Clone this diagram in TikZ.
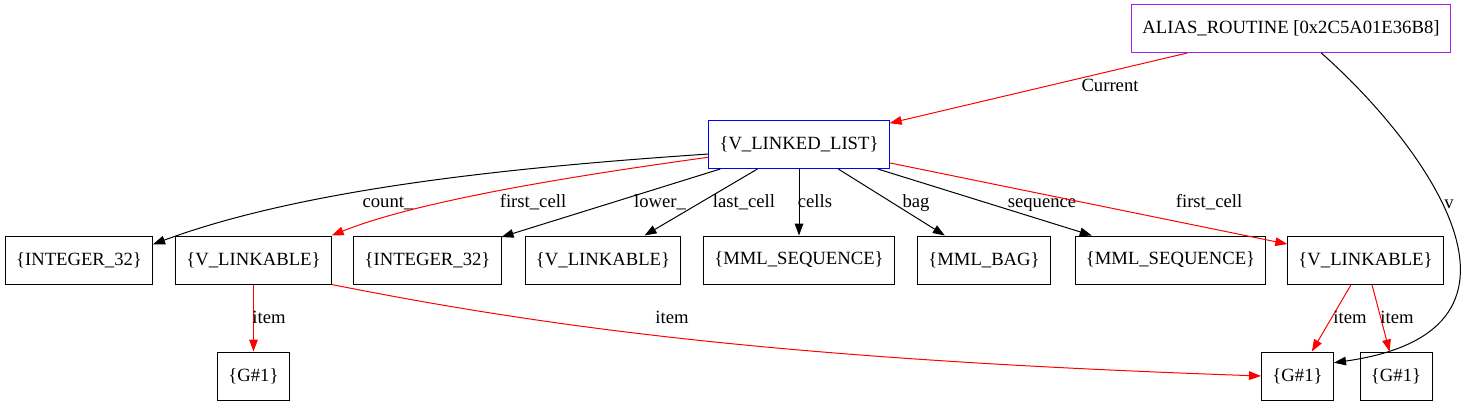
\documentclass[tikz,border=0pt]{standalone}
\usepackage{fontspec}
\setmainfont{Liberation Serif}
\usetikzlibrary{arrows.meta}
\definecolor{aliaspurple}{RGB}{160,32,240}
\tikzset{
  box/.style={draw, rectangle, line width=0.75pt, minimum height=36pt, minimum width=54pt, inner xsep=8pt, font=\fontsize{14}{16}\selectfont},
  lbl/.style={anchor=base, inner sep=0pt, text=black, font=\fontsize{14}{16}\selectfont},
  redge/.style={->, red},
}
\begin{document}
\begin{tikzpicture}[x=0.75pt,y=-0.75pt,>={Triangle[length=9pt,width=6.5pt]},line width=0.75pt]
			\useasboundingbox (0,0) rectangle (1466,407);
			%Goc
			\node[box, draw=aliaspurple] (alias) at (1291,28.5) {ALIAS\_ROUTINE [0x2C5A01E36B8]};
			\node[box, draw=blue] (vll) at (799,144.5) {\{V\_LINKED\_LIST\}};
			%Hang 2
			\node[box] (int1) at (79,260) {\{INTEGER\_32\}};
			\node[box] (vla) at (253.5,260) {\{V\_LINKABLE\}};
			\node[box] (int2) at (427.5,260) {\{INTEGER\_32\}};
			\node[box] (vlb) at (603,260) {\{V\_LINKABLE\}};
			\node[box] (seq1) at (799,260) {\{MML\_SEQUENCE\}};
			\node[box] (bag) at (984,260) {\{MML\_BAG\}};
			\node[box] (seq2) at (1170.5,260) {\{MML\_SEQUENCE\}};
			\node[box] (vlc) at (1365.5,260) {\{V\_LINKABLE\}};
			%Hang 3
			\node[box] (g1) at (253.5,376) {\{G\#1\}};
			\node[box] (g2) at (1297.5,376) {\{G\#1\}};
			\node[box] (g3) at (1396,376) {\{G\#1\}};
			%Canh tu goc
			\draw[redge] (alias) -- (vll) node[lbl] at (1110,91) {Current};
			\draw[->] (alias.-39) .. controls (1420,140) and (1565,330) .. (g2.20) node[lbl] at (1449,208) {v};
			%Canh tu danh sach
			\draw[->] (vll.186) .. controls (500,168) and (300,190) .. (int1.12) node[lbl] at (388,207) {count\_};
			\draw[redge] (vll.188) .. controls (580,175) and (420,200) .. (vla.north east) node[lbl] at (533,207) {first\_cell};
			\draw[->] (vll) -- (int2) node[lbl] at (660,207) {lower\_};
			\draw[->] (vll) -- (vlb) node[lbl] at (744,207) {last\_cell};
			\draw[->] (vll) -- (seq1) node[lbl] at (815,207) {cells};
			\draw[->] (vll) -- (bag) node[lbl] at (916,207) {bag};
			\draw[->] (vll) -- (seq2) node[lbl] at (1042,207) {sequence};
			\draw[redge] (vll) -- (vlc) node[lbl] at (1209,207) {first\_cell};
			%Canh item
			\draw[redge] (vla) -- (g1) node[lbl] at (269,323) {item};
			\draw[redge] (vla.south east) .. controls (560,330) and (800,360) .. (g2.west) node[lbl] at (672,323) {item};
			\draw[redge] (vlc) -- (g2) node[lbl] at (1350,323) {item};
			\draw[redge] (vlc) -- (g3) node[lbl] at (1397,323) {item};
		\end{tikzpicture}
\end{document}
